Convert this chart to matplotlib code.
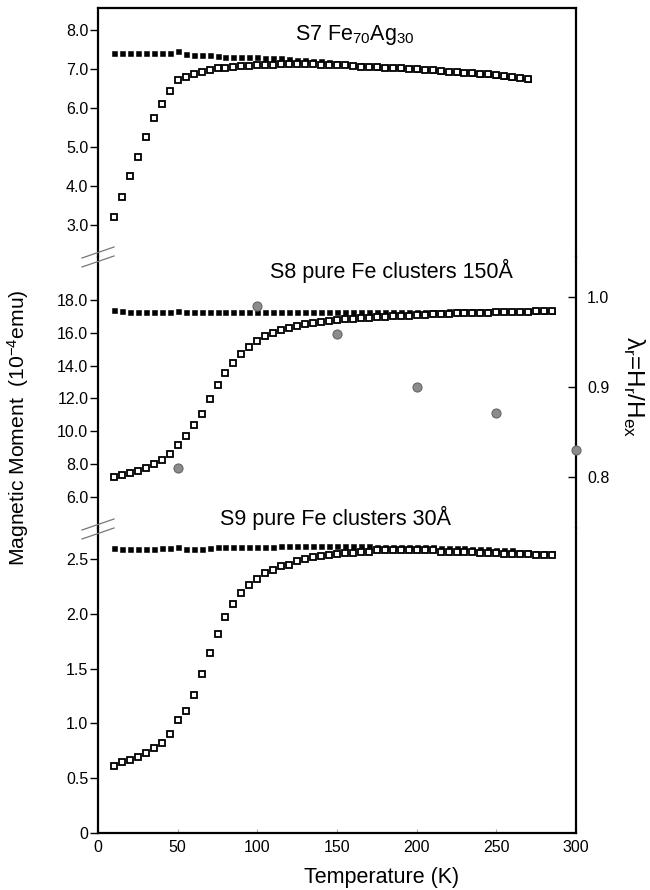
import matplotlib
matplotlib.use('Agg')
import matplotlib.pyplot as plt
from matplotlib.lines import Line2D

plt.rcParams['font.family'] = ['Liberation Sans', 'DejaVu Sans']
plt.rcParams['mathtext.default'] = 'regular'

# S7 Fe70Ag30
t_s7 = [10, 15, 20, 25, 30, 35, 40, 45, 50, 55, 60, 65, 70, 75, 80, 85, 90, 95,
        100, 105, 110, 115, 120, 125, 130, 135, 140, 145, 150, 155, 160, 165,
        170, 175, 180, 185, 190, 195, 200, 205, 210, 215, 220, 225, 230, 235,
        240, 245, 250, 255, 260, 265, 270]
s7_fc = [7.41, 7.41, 7.41, 7.41, 7.41, 7.40, 7.41, 7.41, 7.45, 7.39, 7.36, 7.36,
         7.36, 7.33, 7.31, 7.31, 7.31, 7.30, 7.30, 7.28, 7.28, 7.27, 7.26, 7.24,
         7.22, 7.21, 7.19, 7.17, 7.15, 7.13, 7.11, 7.09, 7.07, 7.06, 7.05, 7.04,
         7.03, 7.01, 7.00, 6.99, 6.97, 6.95, 6.94, 6.93, 6.91, 6.90, 6.88, 6.87,
         6.85, 6.83, 6.80, 6.78, 6.75]
s7_zfc = [3.21, 3.73, 4.26, 4.75, 5.26, 5.75, 6.11, 6.44, 6.71, 6.80, 6.88, 6.93,
          6.98, 7.02, 7.03, 7.06, 7.07, 7.08, 7.10, 7.11, 7.11, 7.12, 7.12, 7.12,
          7.12, 7.12, 7.11, 7.10, 7.10, 7.09, 7.08, 7.06, 7.05, 7.04, 7.03, 7.02,
          7.01, 7.00, 6.99, 6.98, 6.96, 6.94, 6.93, 6.92, 6.90, 6.89, 6.87, 6.86,
          6.84, 6.82, 6.79, 6.77, 6.74]

# S8 and S9 share the same temperature grid
t_fe = [10, 15, 20, 25, 30, 35, 40, 45, 50, 55, 60, 65, 70, 75, 80, 85, 90, 95,
        100, 105, 110, 115, 120, 125, 130, 135, 140, 145, 150, 155, 160, 165,
        170, 175, 180, 185, 190, 195, 200, 205, 210, 215, 220, 225, 230, 235,
        240, 245, 250, 255, 260, 265, 270, 275, 280, 285]
s8_fc = [17.36, 17.34, 17.27, 17.27, 17.27, 17.27, 17.28, 17.28, 17.33, 17.27,
         17.27, 17.27, 17.27, 17.27, 17.27, 17.28, 17.28, 17.28, 17.29, 17.28,
         17.28, 17.28, 17.28, 17.28, 17.28, 17.28, 17.28, 17.28, 17.28, 17.28,
         17.28, 17.28, 17.28, 17.28, 17.28, 17.29, 17.29, 17.29, 17.28, 17.29,
         17.29, 17.29, 17.30, 17.31, 17.31, 17.30, 17.30, 17.30, 17.30, 17.31,
         17.33, 17.33, 17.33, 17.33, 17.33, 17.33]
s8_zfc = [7.23, 7.31, 7.43, 7.57, 7.74, 7.98, 8.24, 8.59, 9.16, 9.71, 10.38, 11.05,
          11.95, 12.82, 13.53, 14.18, 14.73, 15.15, 15.50, 15.80, 16.01, 16.17,
          16.31, 16.41, 16.54, 16.62, 16.68, 16.72, 16.77, 16.81, 16.85, 16.89,
          16.92, 16.95, 16.98, 17.01, 17.03, 17.05, 17.08, 17.10, 17.12, 17.14,
          17.16, 17.18, 17.20, 17.21, 17.22, 17.23, 17.24, 17.25, 17.27, 17.28,
          17.29, 17.30, 17.30, 17.30]
s9_fc = [2.60, 2.59, 2.59, 2.59, 2.59, 2.59, 2.60, 2.60, 2.61, 2.59, 2.59, 2.59,
         2.60, 2.61, 2.61, 2.61, 2.61, 2.61, 2.61, 2.61, 2.61, 2.62, 2.62, 2.62,
         2.62, 2.62, 2.62, 2.62, 2.62, 2.62, 2.62, 2.62, 2.62, 2.61, 2.61, 2.61,
         2.61, 2.61, 2.61, 2.61, 2.61, 2.60, 2.60, 2.60, 2.60, 2.59, 2.59, 2.59,
         2.58, 2.58, 2.58, 2.57, 2.57, 2.56, 2.56, 2.56]
s9_zfc = [0.615, 0.645, 0.664, 0.694, 0.728, 0.773, 0.825, 0.901, 1.03, 1.11,
          1.26, 1.45, 1.64, 1.82, 1.97, 2.09, 2.19, 2.26, 2.32, 2.37, 2.40, 2.44,
          2.45, 2.48, 2.50, 2.52, 2.53, 2.54, 2.55, 2.56, 2.56, 2.57, 2.57, 2.58,
          2.58, 2.58, 2.58, 2.58, 2.58, 2.58, 2.58, 2.57, 2.57, 2.57, 2.57, 2.57,
          2.56, 2.56, 2.56, 2.55, 2.55, 2.55, 2.55, 2.54, 2.54, 2.54]

# lambda_r = H_r / H_ex
t_lam = [50, 100, 150, 200, 250, 300]
lam = [0.81, 0.99, 0.959, 0.90, 0.871, 0.83]

W, H = 650, 890
fig = plt.figure(figsize=(W / 100, H / 100), dpi=100)

x0, x1 = 98, 576
def rect(ytop, ybot):
    return [x0 / W, 1 - ybot / H, (x1 - x0) / W, (ybot - ytop) / H]

ax_top = fig.add_axes(rect(8, 257))
ax_mid = fig.add_axes(rect(257, 528), sharex=ax_top)
ax_bot = fig.add_axes(rect(528, 833), sharex=ax_top)

panels = [
    (ax_top, t_s7, s7_fc, s7_zfc, (2.18, 8.56), [3, 4, 5, 6, 7, 8], '%.1f'),
    (ax_mid, t_fe, s8_fc, s8_zfc, (4.09, 20.62), [6, 8, 10, 12, 14, 16, 18], '%.1f'),
    (ax_bot, t_fe, s9_fc, s9_zfc, (0, 2.785), [0, 0.5, 1.0, 1.5, 2.0, 2.5], None),
]

for ax, t, fc, zfc, ylim, yt, fmt in panels:
    ax.plot(t, fc, ls='none', marker='s', ms=3.6, mfc='black', mec='black',
            mew=0.4, zorder=3)
    ax.plot(t, zfc, ls='none', marker='s', ms=4.1, mfc='white', mec='black',
            mew=1.3, zorder=4)
    ax.set_ylim(*ylim)
    ax.set_yticks(yt)
    if fmt:
        ax.set_yticklabels([fmt % v for v in yt])
    else:
        ax.set_yticklabels(['0'] + ['%.1f' % v for v in yt[1:]])
    for s in ax.spines.values():
        s.set_linewidth(1.6)
    ax.tick_params(axis='y', direction='out', length=5.5, width=1.0,
                   pad=1.5, labelsize=11.5)
    ax.set_xlim(0, 300)

ax_top.spines['bottom'].set_visible(False)
ax_mid.spines['top'].set_visible(False)
ax_mid.spines['bottom'].set_visible(False)
ax_bot.spines['top'].set_visible(False)
for ax in (ax_top, ax_mid):
    ax.tick_params(axis='x', bottom=False, labelbottom=False)

ax_bot.set_xticks([0, 50, 100, 150, 200, 250, 300])
ax_bot.tick_params(axis='x', direction='in', length=3, width=0.8,
                   color='#aaaaaa', pad=5, labelsize=11.5)

# right-hand scale for lambda_r in the middle panel
ax_lam = ax_mid.twinx()
ax_lam.set_ylim(0.743, 1.0441)
ax_lam.set_yticks([0.8, 0.9, 1.0])
ax_lam.set_yticklabels(['0.8', '0.9', '1.0'])
ax_lam.tick_params(axis='y', direction='in', length=5.5, width=1.0,
                   pad=8, labelsize=11.5)
for s in ax_lam.spines.values():
    s.set_visible(False)
ax_lam.plot(t_lam, lam, ls='none', marker='o', ms=6.5, mfc='#8c8c8c',
            mec='#666666', mew=0.8, clip_on=False, zorder=5)

# axis break marks on the left spine
for yb in (257, 529):
    for dy in (-4.5, 4.5):
        fig.add_artist(Line2D([82 / W, 114 / W],
                              [1 - (yb + dy + 5.5) / H, 1 - (yb + dy - 5.5) / H],
                              color='#777777', lw=0.9))

fig.text(355 / W, 1 - 40 / H, 'S7 Fe$_{70}$Ag$_{30}$', ha='center',
         va='baseline', fontsize=15.5)
fig.text(391 / W, 1 - 278 / H, 'S8 pure Fe clusters 150Å', ha='center',
         va='baseline', fontsize=15.5)
fig.text(336 / W, 1 - 525 / H, 'S9 pure Fe clusters 30Å', ha='center',
         va='baseline', fontsize=15.5)

fig.text(18 / W, 1 - 428 / H, 'Magnetic Moment  (10$^{-4}$emu)', rotation=90,
         ha='center', va='center', fontsize=15.2)
fig.text(634 / W, 1 - 387 / H, r'$\lambda_r$=H$_r$/H$_{ex}$', rotation=270,
         ha='center', va='center', fontsize=17.5)
fig.text(382 / W, 1 - 877 / H, 'Temperature (K)', ha='center', va='center',
         fontsize=15.5)

fig.savefig('out.png', dpi=100)
